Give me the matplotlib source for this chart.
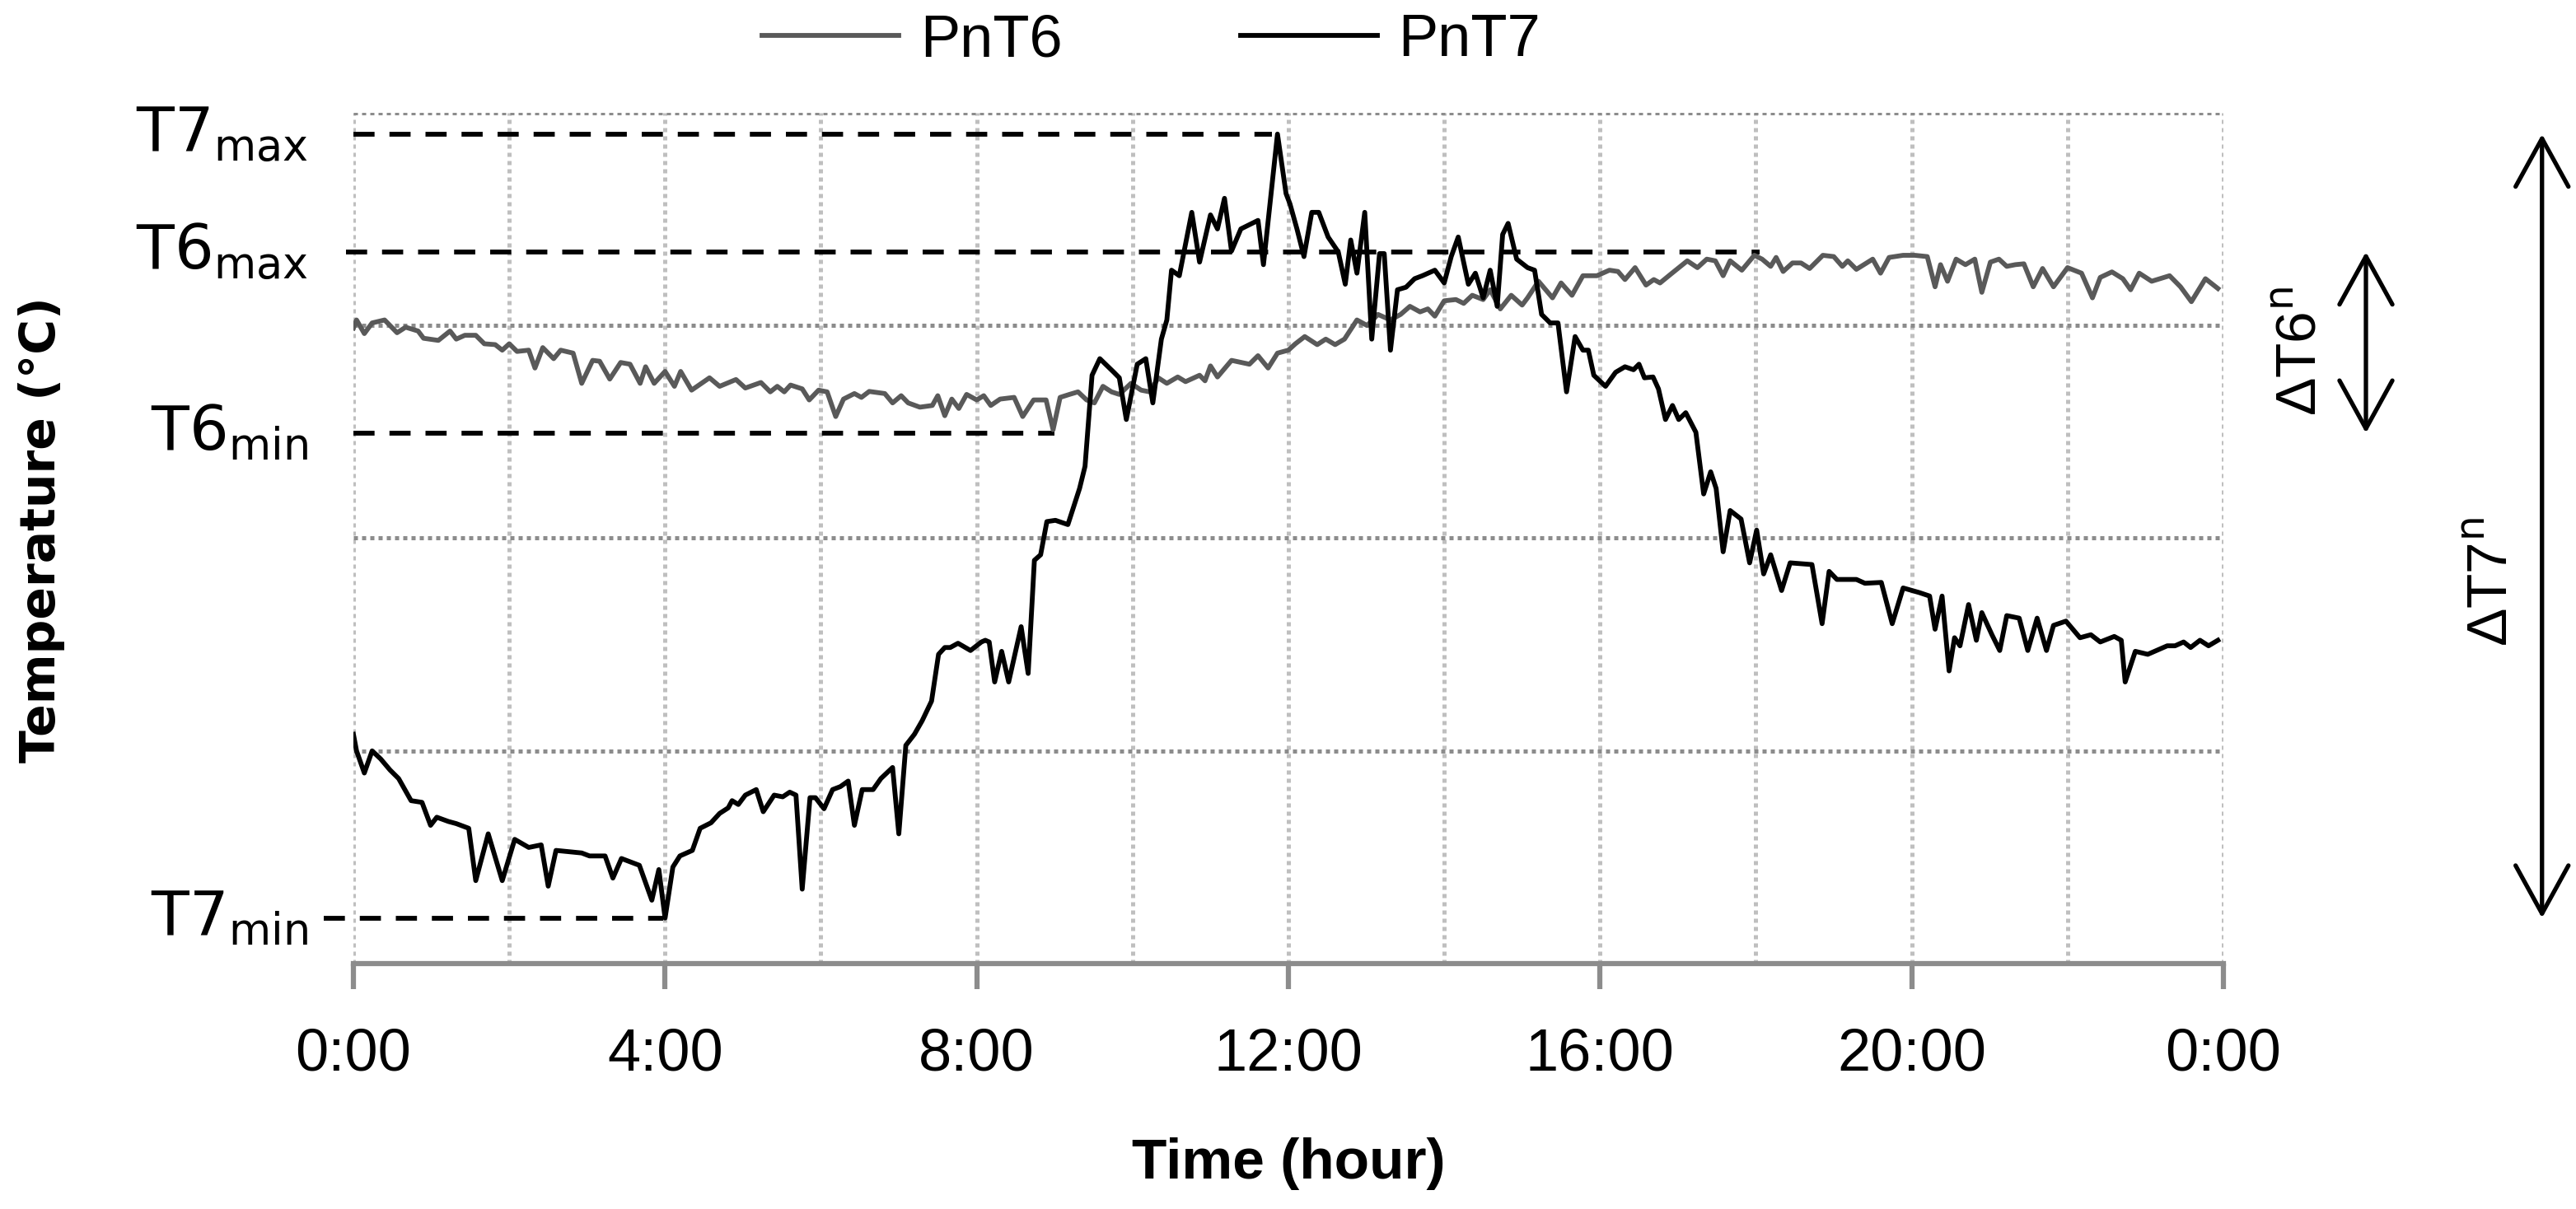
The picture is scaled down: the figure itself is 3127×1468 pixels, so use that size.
import matplotlib
matplotlib.use("Agg")
import matplotlib.pyplot as plt

plt.rcParams['font.family'] = ['Liberation Sans', 'DejaVu Sans']
plt.rcParams['mathtext.fontset'] = 'custom'
plt.rcParams['mathtext.rm'] = 'Liberation Sans Narrow'
plt.rcParams['mathtext.it'] = 'Liberation Sans Narrow'

# PnT6 trace (hours, degC)
t6_hours = [0.0, 0.04, 0.14, 0.24, 0.40, 0.56, 0.67, 0.83, 0.90, 1.09, 1.24, 1.32, 1.43, 1.57, 1.68,
            1.82, 1.91, 2.0, 2.1, 2.25, 2.33, 2.43, 2.57, 2.66, 2.82, 2.93, 3.07, 3.16, 3.29, 3.43,
            3.55, 3.68, 3.75, 3.86, 4.0, 4.12, 4.2, 4.34, 4.57, 4.7, 4.91, 5.03, 5.23, 5.35, 5.44,
            5.53, 5.61, 5.76, 5.85, 5.97, 6.08, 6.19, 6.29, 6.43, 6.52, 6.62, 6.82, 6.92, 7.03, 7.12,
            7.27, 7.43, 7.5, 7.59, 7.68, 7.77, 7.87, 8.0, 8.09, 8.18, 8.3, 8.48, 8.59, 8.73, 8.89,
            8.98, 9.07, 9.19, 9.3, 9.41, 9.51, 9.62, 9.73, 9.83, 9.98, 10.11, 10.22, 10.33, 10.44,
            10.58, 10.68, 10.86, 10.93, 11.0, 11.09, 11.27, 11.5, 11.61, 11.74, 11.86, 12.0, 12.09,
            12.21, 12.37, 12.48, 12.6, 12.72, 12.88, 13.01, 13.15, 13.31, 13.44, 13.56, 13.69, 13.79,
            13.88, 14.0, 14.15, 14.25, 14.36, 14.5, 14.59, 14.72, 14.86, 15.0, 15.07, 15.21, 15.39,
            15.5, 15.64, 15.78, 15.96, 16.12, 16.23, 16.32, 16.45, 16.59, 16.69, 16.77, 16.91, 17.12,
            17.25, 17.37, 17.48, 17.58, 17.67, 17.82, 17.98, 18.08, 18.19, 18.26, 18.35, 18.47, 18.58,
            18.69, 18.86, 19.0, 19.11, 19.18, 19.29, 19.5, 19.6, 19.71, 19.89, 20.04, 20.2, 20.3,
            20.37, 20.46, 20.57, 20.69, 20.81, 20.9, 21.01, 21.12, 21.22, 21.33, 21.44, 21.56, 21.68,
            21.82, 22.0, 22.18, 22.32, 22.42, 22.57, 22.71, 22.81, 22.92, 23.08, 23.31, 23.45, 23.59,
            23.77, 23.93]
t6_temp = [34.94, 35.13, 34.81, 35.06, 35.13, 34.83, 34.96, 34.87, 34.70, 34.65, 34.87, 34.68, 34.77,
           34.77, 34.57, 34.55, 34.42, 34.57, 34.39, 34.42, 34.0, 34.48, 34.22, 34.42, 34.35, 33.64,
           34.18, 34.16, 33.74, 34.13, 34.09, 33.64, 34.03, 33.64, 33.92, 33.57, 33.92, 33.48, 33.77,
           33.57, 33.73, 33.53, 33.66, 33.44, 33.57, 33.44, 33.60, 33.51, 33.25, 33.48, 33.44, 32.86,
           33.27, 33.40, 33.31, 33.45, 33.40, 33.18, 33.35, 33.18, 33.08, 33.12, 33.35, 32.88, 33.27,
           33.05, 33.38, 33.25, 33.35, 33.12, 33.27, 33.31, 32.86, 33.25, 33.25, 32.55, 33.31, 33.38,
           33.44, 33.25, 33.18, 33.57, 33.44, 33.38, 33.64, 33.48, 33.44, 33.77, 33.64, 33.79, 33.68,
           33.83, 33.70, 34.05, 33.79, 34.18, 34.09, 34.29, 34.0, 34.35, 34.42, 34.57, 34.74, 34.55,
           34.68, 34.55, 34.68, 35.13, 35.0, 35.26, 35.13, 35.26, 35.45, 35.32, 35.39, 35.22, 35.58,
           35.61, 35.52, 35.71, 35.61, 35.84, 35.39, 35.71, 35.48, 35.65, 36.04, 35.65, 36.0, 35.71,
           36.17, 36.17, 36.30, 36.27, 36.08, 36.36, 35.95, 36.08, 36.0, 36.21, 36.52, 36.36, 36.56,
           36.52, 36.17, 36.52, 36.30, 36.65, 36.56, 36.39, 36.60, 36.27, 36.47, 36.47, 36.34, 36.65,
           36.62, 36.39, 36.52, 36.32, 36.56, 36.23, 36.60, 36.65, 36.65, 36.62, 35.91, 36.43, 36.04,
           36.56, 36.43, 36.56, 35.78, 36.49, 36.56, 36.39, 36.43, 36.45, 35.91, 36.34, 35.91, 36.36,
           36.23, 35.65, 36.13, 36.26, 36.10, 35.84, 36.23, 36.04, 36.17, 35.91, 35.56, 36.10, 35.87]

# PnT7 trace (hours, degC)
t7_hours = [0.0, 0.04, 0.14, 0.24, 0.35, 0.47, 0.58, 0.74, 0.88, 0.99, 1.07, 1.22, 1.32, 1.48, 1.57,
            1.73, 1.91, 2.07, 2.25, 2.41, 2.5, 2.6, 2.93, 3.03, 3.23, 3.33, 3.44, 3.67, 3.83, 3.92,
            4.0, 4.1, 4.19, 4.35, 4.45, 4.59, 4.7, 4.81, 4.86, 4.94, 5.03, 5.17, 5.26, 5.4, 5.51,
            5.6, 5.68, 5.76, 5.86, 5.93, 6.04, 6.15, 6.25, 6.35, 6.43, 6.53, 6.67, 6.77, 6.92, 7.0,
            7.09, 7.2, 7.3, 7.42, 7.51, 7.59, 7.66, 7.76, 7.92, 8.06, 8.11, 8.16, 8.23, 8.32, 8.41,
            8.57, 8.66, 8.74, 8.82, 8.9, 9.01, 9.17, 9.32, 9.39, 9.48, 9.58, 9.76, 9.83, 9.92, 10.06,
            10.17, 10.26, 10.37, 10.44, 10.5, 10.6, 10.76, 10.86, 11.0, 11.09, 11.18, 11.27, 11.39,
            11.61, 11.68, 11.86, 11.97, 12.02, 12.11, 12.2, 12.3, 12.39, 12.51, 12.64, 12.73, 12.8,
            12.88, 12.98, 13.07, 13.17, 13.23, 13.31, 13.4, 13.51, 13.62, 13.72, 13.88, 14.0, 14.09,
            14.18, 14.31, 14.4, 14.5, 14.59, 14.68, 14.75, 14.82, 14.93, 15.07, 15.16, 15.25, 15.36,
            15.46, 15.57, 15.68, 15.78, 15.85, 15.92, 16.07, 16.2, 16.32, 16.43, 16.5, 16.57, 16.68,
            16.75, 16.84, 16.93, 17.01, 17.1, 17.23, 17.33, 17.42, 17.49, 17.58, 17.67, 17.81, 17.92,
            18.01, 18.1, 18.19, 18.33, 18.44, 18.72, 18.85, 18.94, 19.04, 19.29, 19.4, 19.61, 19.75,
            19.89, 20.1, 20.23, 20.3, 20.39, 20.48, 20.55, 20.62, 20.73, 20.83, 20.9, 21.03, 21.13,
            21.22, 21.38, 21.49, 21.61, 21.73, 21.82, 21.98, 22.16, 22.3, 22.42, 22.6, 22.69, 22.74,
            22.87, 23.03, 23.28, 23.38, 23.49, 23.58, 23.7, 23.81, 23.93]
t7_temp = [25.39, 25.0, 24.48, 25.0, 24.81, 24.55, 24.35, 23.83, 23.79, 23.25, 23.44, 23.34, 23.29,
           23.18, 21.95, 23.05, 21.95, 22.92, 22.73, 22.79, 21.82, 22.66, 22.6, 22.53, 22.53, 22.01,
           22.47, 22.31, 21.49, 22.21, 21.07, 22.27, 22.53, 22.66, 23.18, 23.31, 23.53, 23.66, 23.83,
           23.74, 23.96, 24.09, 23.57, 23.96, 23.92, 24.03, 23.96, 21.75, 23.90, 23.90, 23.64, 24.09,
           24.16, 24.29, 23.25, 24.09, 24.09, 24.35, 24.61, 23.05, 25.13, 25.39, 25.71, 26.17, 27.27,
           27.43, 27.43, 27.53, 27.36, 27.56, 27.60, 27.56, 26.62, 27.34, 26.62, 27.92, 26.82, 29.48,
           29.61, 30.39, 30.42, 30.32, 31.17, 31.69, 33.83, 34.22, 33.90, 33.77, 32.79, 34.09, 34.22,
           33.18, 34.68, 35.13, 36.30, 36.17, 37.66, 36.49, 37.60, 37.27, 37.99, 36.75, 37.27, 37.47,
           36.43, 39.50, 38.10, 37.86, 37.27, 36.62, 37.66, 37.66, 37.08, 36.73, 35.97, 37.01, 36.23,
           37.66, 34.68, 36.69, 36.69, 34.42, 35.84, 35.90, 36.10, 36.17, 36.30, 36.0, 36.62, 37.08,
           35.97, 36.23, 35.65, 36.30, 35.45, 37.14, 37.40, 36.56, 36.36, 36.30, 35.26, 35.06, 35.06,
           33.44, 34.74, 34.42, 34.42, 33.83, 33.57, 33.90, 34.03, 33.96, 34.09, 33.77, 33.79, 33.51,
           32.79, 33.12, 32.79, 32.95, 32.49, 31.04, 31.56, 31.17, 29.68, 30.65, 30.45, 29.42, 30.19,
           29.16, 29.61, 28.77, 29.42, 29.38, 27.99, 29.22, 29.03, 29.03, 28.94, 28.96, 27.99, 28.83,
           28.72, 28.64, 27.86, 28.64, 26.88, 27.66, 27.47, 28.44, 27.60, 28.25, 27.73, 27.36, 28.18,
           28.12, 27.36, 28.12, 27.36, 27.95, 28.05, 27.66, 27.73, 27.56, 27.69, 27.60, 26.62, 27.34,
           27.27, 27.47, 27.47, 27.56, 27.43, 27.60, 27.47, 27.60]

# reference levels: (label, value, start hour, end hour)
ref_labels = ['T7$_{\\mathrm{max}}$', 'T6$_{\\mathrm{max}}$', 'T6$_{\\mathrm{min}}$', 'T7$_{\\mathrm{min}}$']
ref_values = [39.50, 36.73, 32.47, 21.07]
ref_start = [0.0, -0.1, 0.0, -0.38]
ref_end = [11.79, 18.05, 9.0, 3.97]

tick_hours = [0, 4, 8, 12, 16, 20, 24]
tick_labels = ['0:00', '4:00', '8:00', '12:00', '16:00', '20:00', '0:00']

fig = plt.figure(figsize=(31.27, 14.68), dpi=100)
ax = fig.add_axes([0.1372, 0.2030, 0.7259, 0.7037])

ax.plot(t6_hours, t6_temp, color='#595959', lw=4.2, label='PnT6', zorder=4)
ax.plot(t7_hours, t7_temp, color='black', lw=4.2, label='PnT7', zorder=5)

for lab, v, s, e in zip(ref_labels, ref_values, ref_start, ref_end):
    ax.plot([s, e], [v, v], color='black', lw=4.2, linestyle=(0, (4.4, 3.1)),
            clip_on=False, zorder=3)
    ax.text(-0.58, v, lab, ha='right', va='center', fontsize=54,
            family='Liberation Sans Narrow')

ax.set_xlim(0, 24)
ax.set_ylim(20, 40)
ax.set_xticks(tick_hours)
ax.set_xticklabels(tick_labels)
ax.set_xticks(range(0, 25, 2), minor=True)
ax.set_yticks([25, 30, 35, 40])
ax.set_yticklabels([])
ax.tick_params(axis='x', which='major', length=22, width=4.5, color='#8c8c8c',
               labelsize=52, pad=34)
ax.tick_params(axis='x', which='minor', length=0)
ax.tick_params(axis='y', length=0)

ax.grid(axis='x', which='both', color='#bfbfbf', lw=3.6, linestyle=(0, (1.0, 1.0)), zorder=0)
ax.grid(axis='y', color='#8c8c8c', lw=3.6, linestyle=(0, (1.0, 1.0)), zorder=0)
ax.set_axisbelow(True)

for side in ['top', 'right', 'left']:
    ax.spines[side].set_visible(False)
ax.spines['bottom'].set_color('#8c8c8c')
ax.spines['bottom'].set_linewidth(4.5)

ax.set_xlabel('Time (hour)', fontsize=50, fontweight='bold', labelpad=48)
ax.set_ylabel('Temperature (°C)', fontsize=42, fontweight='bold', family='DejaVu Sans')
ax.yaxis.set_label_coords(-0.154, 0.51)

# range arrows on the right
arrow_style = '<->,head_length=1.0,head_width=0.55'
ax.annotate('', xy=(25.83, ref_values[2]), xytext=(25.83, ref_values[1]),
            arrowprops=dict(arrowstyle=arrow_style, lw=3.8, color='black',
                            mutation_scale=42, shrinkA=0, shrinkB=0),
            annotation_clip=False)
ax.annotate('', xy=(28.09, ref_values[3]), xytext=(28.09, ref_values[0]),
            arrowprops=dict(arrowstyle=arrow_style, lw=3.8, color='black',
                            mutation_scale=42, shrinkA=0, shrinkB=0),
            annotation_clip=False)
ax.text(25.0, 34.4, '\u0394T6$^{\\mathrm{n}}$', rotation=90, ha='center', va='center',
        fontsize=50, clip_on=False)
ax.text(27.46, 28.98, '\u0394T7$^{\\mathrm{n}}$', rotation=90, ha='center', va='center',
        fontsize=50, clip_on=False)

fig.legend(loc='center', bbox_to_anchor=(0.447, 0.966), ncol=2, frameon=False,
           fontsize=52, handlelength=2.3, handletextpad=0.35, columnspacing=3.0)

fig.savefig('out.png', dpi=100)
